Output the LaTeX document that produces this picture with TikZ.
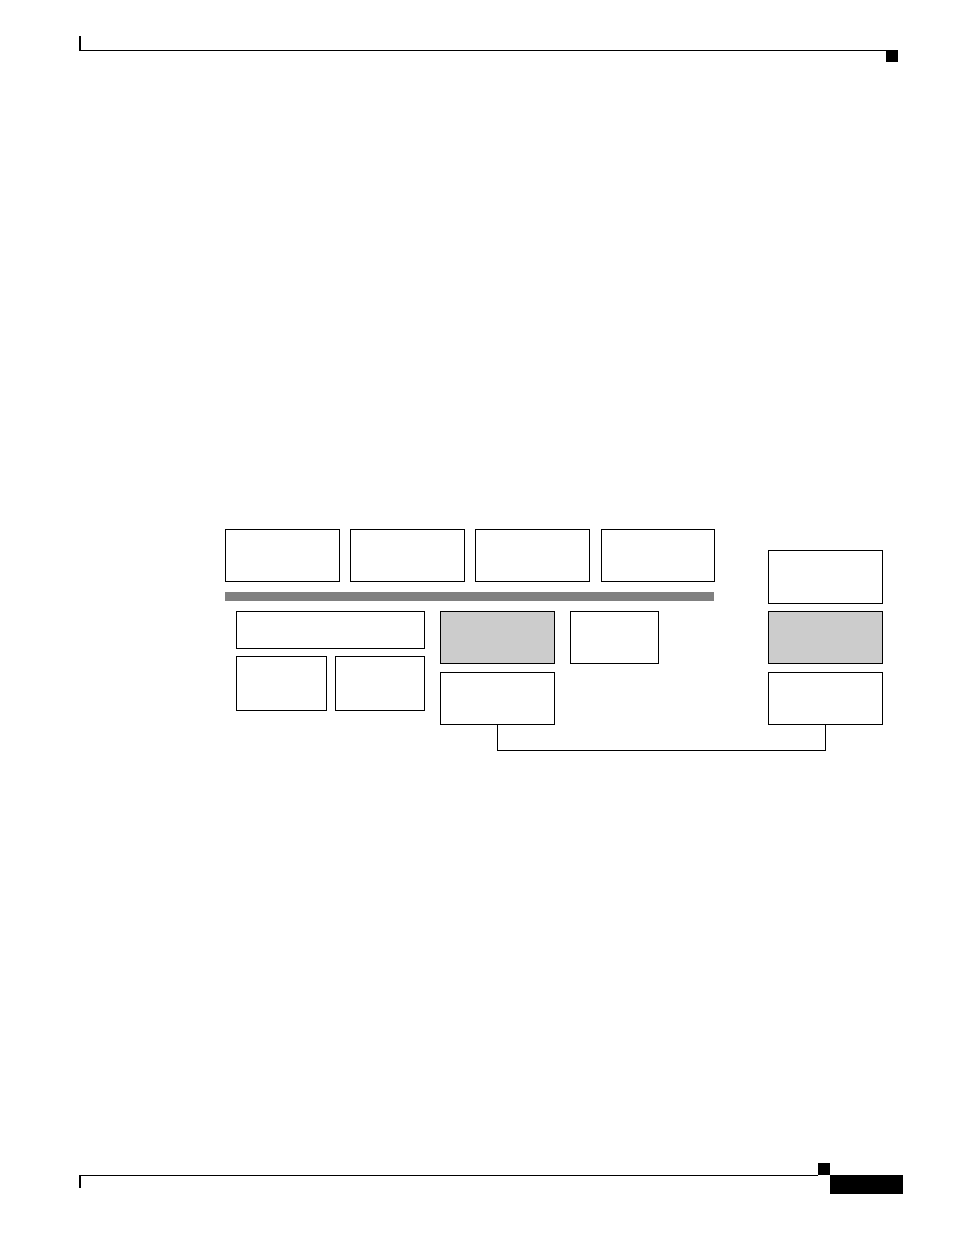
\documentclass[tikz,border=0pt]{standalone}
\usepackage{tikz}
\usetikzlibrary{positioning}
\tikzset{blk/.style = {draw, line width = 0.6pt, inner sep = 0, anchor = north west, minimum width = 85pt, minimum height = 39pt}}
\definecolor{mgray}{rgb}{0.8, 0.8, 0.8}
\definecolor{mbar}{rgb}{0.5, 0.5, 0.5}

\begin{document}
\begin{tikzpicture}[x=0.75pt, y=-0.75pt]
      \useasboundingbox (0, 0) rectangle (954, 1235);

      % page header and footer
      \draw [line width = 1.25pt] (80, 36) -- (80, 50.5);
      \draw [line width = 0.75pt] (80, 50.5) -- (886, 50.5);
      \fill (886, 50) rectangle (897.7, 62);
      \draw [line width = 0.75pt] (818, 1175.3) -- (80, 1175.3);
      \draw [line width = 1.25pt] (80, 1175.3) -- (80, 1188);
      \fill (818, 1163) rectangle (830, 1175);
      \fill (830, 1175) rectangle (902.7, 1193.7);

      % top row
      \node [blk] (top1) at (225.3, 529.3) {};
      \node [blk] (top2) at (350.3, 529.3) {};
      \node [blk] (top3) at (475.3, 529.3) {};
      \node [blk, minimum width = 84.3pt] (top4) at (601.3, 529.3) {};

      \fill [mbar] (225, 592) rectangle (714, 601);

      % left group
      \node [blk, minimum width = 140.5pt, minimum height = 27.75pt] (wide) at (236.3, 611.3) {};
      \node [blk, minimum width = 67pt, minimum height = 40pt] (left1) at (236.3, 656.3) {};
      \node [blk, minimum width = 66.3pt, minimum height = 40pt] (left2) at (335.3, 656.3) {};

      % middle group
      \node [blk, fill = mgray] (midgray) at (440.3, 611.3) {};
      \node [blk] (midlow) at (440.3, 672.3) {};
      \node [blk, minimum width = 65.5pt] (midsmall) at (570.3, 611.3) {};

      % right column
      \node [blk, minimum height = 39.5pt] (rtop) at (768.3, 550.3) {};
      \node [blk, fill = mgray] (rgray) at (768.3, 611.3) {};
      \node [blk] (rlow) at (768.3, 672.3) {};

      \draw [line width = 0.6pt] (midlow.south) -- ++(0, 25) -| (rlow.south);
    \end{tikzpicture}
\end{document}
